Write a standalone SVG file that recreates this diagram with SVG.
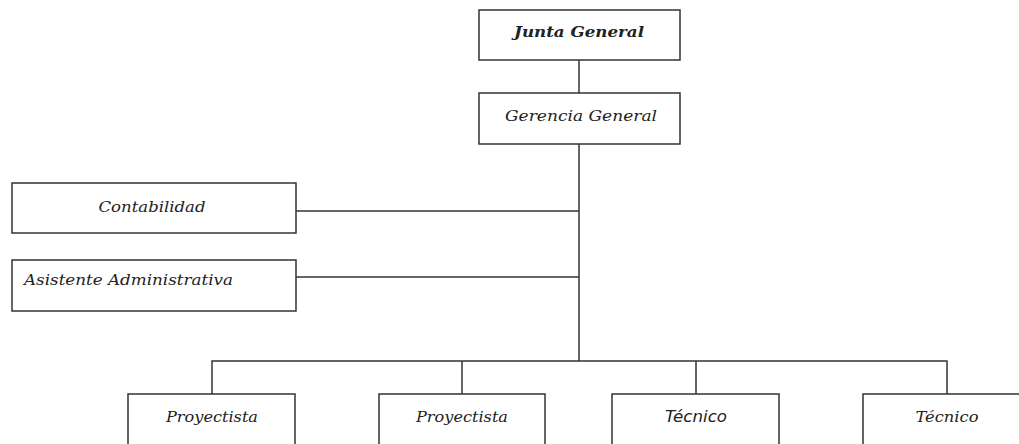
<svg xmlns="http://www.w3.org/2000/svg" width="1019" height="444" viewBox="0 0 1019 444">
<style>
.box{fill:#fff;stroke:#333;stroke-width:1.5}
.ln{fill:none;stroke:#333;stroke-width:1.5}
.t{font-family:"DejaVu Serif","Liberation Serif",serif;font-style:italic;font-size:15px;fill:#222;text-anchor:middle}
.b{font-weight:bold}
.s{font-family:"DejaVu Sans","Liberation Sans",sans-serif}
</style>
<rect width="1019" height="444" fill="#fff"/>
<g id="connectors">
<line class="ln" x1="579" y1="60" x2="579" y2="93"/>
<line class="ln" x1="579" y1="144" x2="579" y2="361"/>
<line class="ln" x1="296" y1="211" x2="579" y2="211"/>
<line class="ln" x1="296" y1="277" x2="579" y2="277"/>
<polyline class="ln" points="212,394 212,361 947,361 947,394"/>
<line class="ln" x1="462" y1="361" x2="462" y2="394"/>
<line class="ln" x1="696" y1="361" x2="696" y2="394"/>
</g>
<g id="junta"><rect class="box" x="479" y="10" width="201" height="50"/><text class="t b" x="579" y="37" textLength="130" lengthAdjust="spacingAndGlyphs">Junta General</text></g>
<g id="gerencia"><rect class="box" x="479" y="93" width="201" height="51"/><text class="t" x="581" y="121" textLength="152" lengthAdjust="spacingAndGlyphs">Gerencia General</text></g>
<g id="contabilidad"><rect class="box" x="12" y="183" width="284" height="50"/><text class="t" x="152" y="212" textLength="107" lengthAdjust="spacingAndGlyphs">Contabilidad</text></g>
<g id="asistente"><rect class="box" x="12" y="260" width="284" height="51"/><text class="t" x="24" y="285" style="text-anchor:start" textLength="209" lengthAdjust="spacingAndGlyphs">Asistente Administrativa</text></g>
<g id="proyectista1"><rect class="box" x="128" y="394" width="167" height="54"/><text class="t" x="212" y="422" textLength="92" lengthAdjust="spacingAndGlyphs">Proyectista</text></g>
<g id="proyectista2"><rect class="box" x="379" y="394" width="166" height="54"/><text class="t" x="462" y="422" textLength="92" lengthAdjust="spacingAndGlyphs">Proyectista</text></g>
<g id="tecnico1"><rect class="box" x="612" y="394" width="167" height="54"/><text class="t s" x="696" y="422" textLength="62" lengthAdjust="spacingAndGlyphs">Técnico</text></g>
<g id="tecnico2"><rect class="box" x="863" y="394" width="170" height="54"/><text class="t" x="947" y="422" textLength="63" lengthAdjust="spacingAndGlyphs">Técnico</text></g>
</svg>
